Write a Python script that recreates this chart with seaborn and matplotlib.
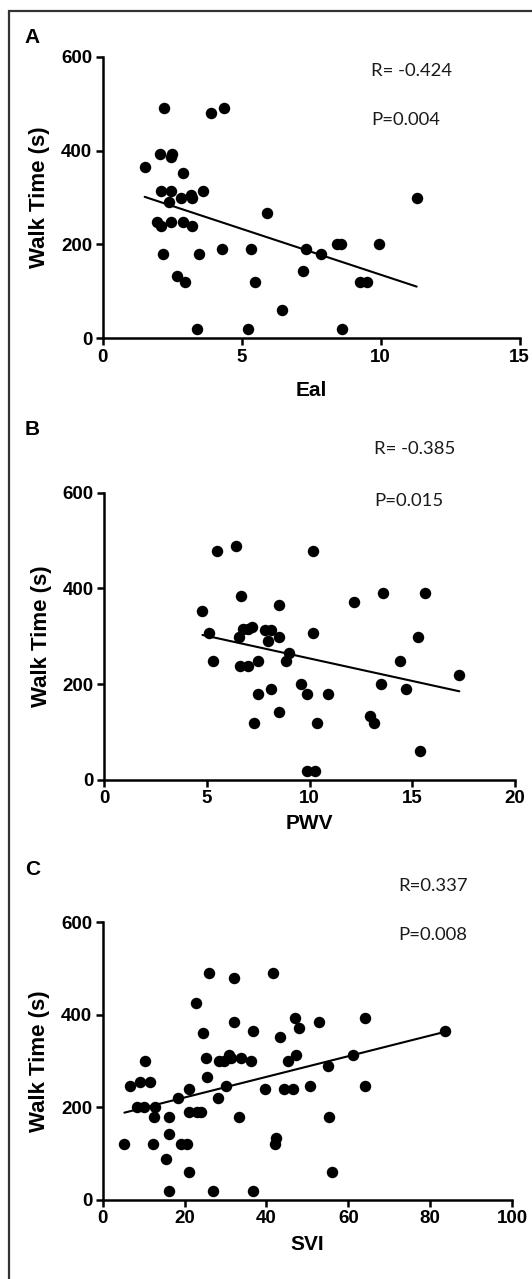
import matplotlib
matplotlib.use("Agg")
import matplotlib.pyplot as plt
from matplotlib.patches import Rectangle
import seaborn as sns
import pandas as pd

# panel A: Eal vs walk time
eal = [1.51, 2.2, 2.08, 2.48, 2.45, 2.11, 2.46, 2.37, 2.9, 2.83, 3.18, 3.2, 3.6,
       1.96, 2.11, 2.45, 2.9, 3.2, 2.17, 3.45, 2.68, 2.95, 3.39, 3.91, 4.35,
       4.29, 5.34, 5.48, 5.23, 5.91, 6.45, 7.21, 7.32, 7.84, 8.42, 8.56, 8.62,
       9.26, 9.5, 9.93, 11.3]
walk_a = [366, 491, 393, 393, 386, 314, 314, 291, 353, 300, 305, 300, 314,
          248, 240, 248, 248, 240, 180, 180, 133, 120, 19, 480, 491,
          190, 190, 120, 19, 266, 60, 143, 190, 180, 200, 200, 19,
          120, 120, 200, 300]

# panel B: PWV vs walk time
pwv = [4.78, 5.09, 5.28, 5.49, 6.41, 6.67, 6.57, 6.76, 6.99, 7.2, 6.63, 6.99,
       7.48, 7.48, 7.3, 7.82, 8.1, 7.99, 8.49, 8.49, 8.1, 8.49, 9.0, 8.87,
       9.6, 9.88, 10.17, 10.17, 9.89, 10.27, 10.38, 10.9, 12.18, 13.59, 15.6,
       12.93, 13.15, 13.48, 14.38, 14.67, 15.27, 15.37, 17.29]
walk_b = [352, 306, 248, 479, 489, 385, 299, 315, 315, 320, 239, 239,
          248, 180, 120, 313, 313, 290, 365, 299, 190, 143, 266, 248,
          200, 180, 479, 306, 19, 19, 120, 180, 372, 391, 391,
          133, 120, 200, 248, 190, 299, 60, 219]

# panel C: SVI vs walk time
svi = [5.3, 6.7, 9.0, 11.5, 10.4, 8.3, 10.0, 12.7, 12.6, 12.4,
       15.5, 16.1, 16.3, 16.3, 18.5, 19.2, 20.6, 21.1, 21.1, 21.2,
       23.1, 24.1, 22.7, 24.5, 25.3, 25.5, 26.0, 27.0, 28.2, 28.4,
       29.6, 30.2, 30.9, 31.4, 32.2, 32.2, 33.4, 33.9, 36.2, 36.8,
       36.7, 39.6, 41.5, 42.3, 42.1, 43.4, 44.2, 45.2, 47.3, 46.6,
       47.1, 47.9, 50.7, 52.8, 55.0, 55.2, 56.1, 61.1, 64.0, 64.2,
       83.6]
walk_c = [120, 247, 256, 256, 300, 200, 200, 200, 180, 120,
          89, 20, 180, 143, 220, 120, 120, 60, 239, 190,
          190, 190, 425, 360, 306, 265, 491, 20, 220, 300,
          300, 247, 313, 306, 480, 385, 180, 306, 300, 365,
          20, 239, 491, 133, 120, 352, 239, 300, 313, 239,
          393, 372, 247, 385, 290, 180, 60, 313, 393, 247,
          365]

panel_letters = ["A", "B", "C"]
x_names = ["Eal", "PWV", "SVI"]
x_limits = [15, 20, 100]
x_steps = [5, 5, 20]
stats_r = ["R= -0.424", "R= -0.385", "R=0.337"]
stats_p = ["P=0.004", "P=0.015", "P=0.008"]

sns.set_style("ticks")
plt.rcParams["font.family"] = ["Liberation Sans", "DejaVu Sans"]

W, H = 532, 1279
fig = plt.figure(figsize=(W / 100, H / 100), dpi=100)

# outer frame (cut off at right and bottom like the source)
fig.patches.append(Rectangle((9 / W, -0.1), 1.2, 1.1 - 11 / H, transform=fig.transFigure,
                             fill=False, edgecolor="#333333", linewidth=1.6))

# axes boxes in pixels: left, right, top(600), bottom(0)
boxes = [(102.7, 519.5, 56.7, 338.3),
         (104.3, 515.0, 492.7, 780.0),
         (102.7, 512.0, 922.3, 1200.0)]
ylab_x = [-0.151, -0.153, -0.154]
xlab_y = [-0.187, -0.150, -0.162]
letter_pos = [(24, 43), (25, 435), (25, 875)]
stat_pos = [(371, 76, 125), (374.3, 454.3, 505.7), (398.3, 891, 940)]

frames = [pd.DataFrame({"x": eal, "y": walk_a}),
          pd.DataFrame({"x": pwv, "y": walk_b}),
          pd.DataFrame({"x": svi, "y": walk_c})]

for i, df in enumerate(frames):
    l, r, t, b = boxes[i]
    ax = fig.add_axes([l / W, 1 - b / H, (r - l) / W, (b - t) / H])
    sns.regplot(data=df, x="x", y="y", ax=ax, ci=None, truncate=True,
                scatter_kws=dict(s=68, color="black", linewidths=0, alpha=1, clip_on=False),
                line_kws=dict(color="black", linewidth=1.5))
    ax.set_xlim(0, x_limits[i])
    ax.set_ylim(0, 600)
    ax.set_xticks(range(0, x_limits[i] + 1, x_steps[i]))
    ax.set_yticks([0, 200, 400, 600])
    sns.despine(ax=ax)
    for s in ["left", "bottom"]:
        ax.spines[s].set_linewidth(1.8)
        ax.spines[s].set_color("black")
    ax.tick_params(width=1.8, length=5, pad=2.5, labelsize=13.5,
                   color="black", labelcolor="black")
    for lab in ax.get_xticklabels() + ax.get_yticklabels():
        lab.set_fontweight("bold")
    ax.set_xlabel(x_names[i], fontsize=15, fontweight="bold", color="black")
    ax.set_ylabel("Walk Time (s)", fontsize=16, fontweight="bold", color="black")
    ax.xaxis.set_label_coords(0.5, xlab_y[i])
    ax.xaxis.label.set_va("center")
    ax.yaxis.set_label_coords(ylab_x[i], 0.5)
    ax.yaxis.label.set_va("center")

    lx, ly = letter_pos[i]
    fig.text(lx / W, 1 - ly / H, panel_letters[i], fontsize=15, fontweight="bold",
             ha="left", va="baseline", color="black")
    sx, ry, py = stat_pos[i]
    fig.text(sx / W, 1 - ry / H, stats_r[i], fontsize=13.3, family=["Lato", "DejaVu Sans"],
             ha="left", va="baseline", color="#1a1a1a")
    fig.text(sx / W, 1 - py / H, stats_p[i], fontsize=13.3, family=["Lato", "DejaVu Sans"],
             ha="left", va="baseline", color="#1a1a1a")

fig.savefig("out.png", dpi=100)
